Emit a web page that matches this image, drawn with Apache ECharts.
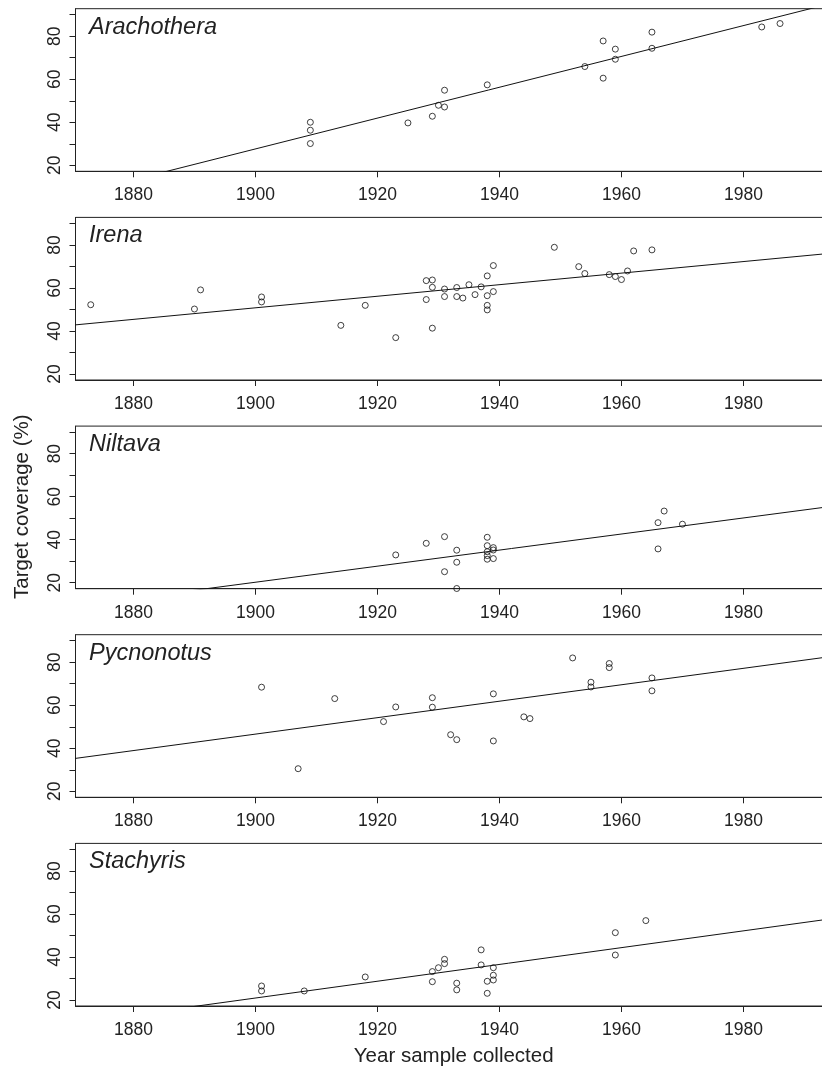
<!DOCTYPE html>
<html>
<head>
<meta charset="utf-8">
<script src="https://cdn.jsdelivr.net/npm/echarts@6/dist/echarts.min.js"></script>
<style>
html,body{margin:0;padding:0;background:#fff;overflow:hidden;width:822px;height:1068px;}
#chart{width:834px;height:1068px;}
</style>
</head>
<body>
<div id="chart"></div>
<script>
// ---- data ----
const genera = ['Arachothera', 'Irena', 'Niltava', 'Pycnonotus', 'Stachyris'];
const xTicks = [1880, 1900, 1920, 1940, 1960, 1980];
const yTicks = [20, 30, 40, 50, 60, 70, 80, 90];
const yLabels = [20, 40, 60, 80];
const xTitle = 'Year sample collected';
const yTitle = 'Target coverage (%)';

const arachotheraYears = [1909, 1909, 1909, 1925, 1929, 1930, 1931, 1931, 1938, 1954, 1957, 1957, 1959, 1959, 1965, 1965, 1983, 1986];
const arachotheraCoverage = [40.0, 36.3, 30.1, 39.7, 42.8, 47.9, 54.9, 47.1, 57.4, 65.9, 77.8, 60.5, 74.0, 69.3, 81.9, 74.4, 84.3, 85.9];

const irenaYears = [1873, 1890, 1891, 1901, 1901, 1914, 1918, 1923, 1928, 1929, 1929, 1928, 1929, 1931, 1931, 1933, 1933, 1934, 1935, 1936, 1937, 1938, 1938, 1938, 1938, 1939, 1939, 1949, 1953, 1954, 1958, 1959, 1960, 1961, 1962, 1965];
const irenaCoverage = [52.2, 50.2, 59.1, 55.8, 53.5, 42.6, 51.9, 36.9, 63.4, 63.7, 60.3, 54.6, 41.3, 59.5, 56.0, 60.2, 56.0, 55.3, 61.5, 56.9, 60.5, 65.6, 56.4, 51.9, 49.8, 70.4, 58.3, 78.9, 69.9, 66.7, 66.2, 65.3, 63.9, 67.9, 77.2, 77.7];

const niltavaYears = [1923, 1928, 1931, 1931, 1933, 1933, 1933, 1938, 1938, 1938, 1938, 1938, 1939, 1939, 1939, 1966, 1967, 1966, 1970];
const niltavaCoverage = [32.9, 38.3, 41.4, 25.1, 35.1, 29.5, 17.3, 41.1, 37.2, 34.4, 32.6, 30.9, 36.3, 35.2, 31.2, 47.9, 53.3, 35.7, 47.2];

const pycnonotusYears = [1901, 1907, 1913, 1921, 1923, 1929, 1929, 1932, 1933, 1939, 1939, 1944, 1945, 1952, 1955, 1955, 1958, 1958, 1965, 1965];
const pycnonotusCoverage = [68.4, 30.5, 63.1, 52.4, 59.2, 63.5, 59.1, 46.3, 44.0, 65.3, 43.4, 54.6, 53.8, 82.0, 70.7, 68.5, 79.4, 77.5, 72.7, 66.7];

const stachyrisYears = [1901, 1901, 1908, 1918, 1929, 1929, 1930, 1931, 1931, 1933, 1933, 1937, 1937, 1938, 1938, 1939, 1939, 1939, 1959, 1959, 1964];
const stachyrisCoverage = [26.5, 24.2, 24.2, 30.7, 33.2, 28.5, 35.0, 38.9, 36.9, 27.8, 24.7, 43.3, 36.3, 28.7, 23.1, 35.0, 31.5, 29.3, 51.3, 40.9, 56.9];

// fitted regression lines: value at each of fitYears
const fitYears = [1870, 1995];
const arachotheraFit = [6.1, 95.7];
const irenaFit = [42.7, 76.3];
const niltavaFit = [9.0, 55.7];
const pycnonotusFit = [35.1, 82.9];
const stachyrisFit = [9.2, 58.0];

// ---- chart ----
const panelYears = [arachotheraYears, irenaYears, niltavaYears, pycnonotusYears, stachyrisYears];
const panelCoverage = [arachotheraCoverage, irenaCoverage, niltavaCoverage, pycnonotusCoverage, stachyrisCoverage];
const panelFit = [arachotheraFit, irenaFit, niltavaFit, pycnonotusFit, stachyrisFit];

const FONT = "'Liberation Sans', Arial, Helvetica, sans-serif";
const INK = '#222';
const tops = [8.7, 217.4, 426.1, 634.7, 843.4];
const gridLeft = 75.5, gridWidth = 757, gridHeight = 162.6;

const grids = [], xAxes = [], yAxes = [], series = [], graphics = [];
genera.forEach((g, i) => {
  grids.push({left: gridLeft, top: tops[i], width: gridWidth, height: gridHeight, show: true,
    borderColor: INK, borderWidth: 1, backgroundColor: 'transparent', containLabel: false});
  xAxes.push({gridIndex: i, type: 'value', min: 1870.5, max: 1994.6,
    axisLine: {show: true, onZero: false, lineStyle: {color: INK, width: 1}},
    axisTick: {show: true, customValues: xTicks, length: 6, lineStyle: {color: INK, width: 1}},
    axisLabel: {customValues: xTicks, formatter: v => String(v), fontSize: 17.5, fontFamily: FONT, color: INK, margin: 15},
    splitLine: {show: false}});
  yAxes.push({gridIndex: i, type: 'value', min: 17.2, max: 92.8,
    axisLine: {show: true, onZero: false, lineStyle: {color: INK, width: 1}},
    axisTick: {show: true, customValues: yTicks, length: 6, lineStyle: {color: INK, width: 1}},
    axisLabel: {customValues: yLabels, formatter: v => String(v), rotate: 90, fontSize: 17.5, fontFamily: FONT, color: INK, margin: 11},
    splitLine: {show: false}});
  series.push({type: 'scatter', xAxisIndex: i, yAxisIndex: i,
    data: panelYears[i].map((y, k) => [y, panelCoverage[i][k]]),
    symbol: 'circle', symbolSize: 6,
    itemStyle: {color: 'rgba(0,0,0,0)', borderColor: '#111', borderWidth: 1},
    emphasis: {disabled: true}, silent: true});
  series.push({type: 'line', xAxisIndex: i, yAxisIndex: i,
    data: fitYears.map((y, k) => [y, panelFit[i][k]]),
    showSymbol: false, symbol: 'none', clip: true,
    lineStyle: {color: '#111', width: 1}, emphasis: {disabled: true}, silent: true});
  graphics.push({type: 'text', x: 89, y: tops[i] + 18.3,
    style: {text: g, fill: INK, fontSize: 23.5, fontStyle: 'italic', fontFamily: FONT,
      align: 'left', verticalAlign: 'middle'}});
});
graphics.push({type: 'text', x: 22, y: 506.7, rotation: Math.PI / 2,
  style: {text: yTitle, fill: INK, fontSize: 20.5, fontFamily: FONT, align: 'center', verticalAlign: 'middle'}});
graphics.push({type: 'text', x: 453.7, y: 1056,
  style: {text: xTitle, fill: INK, fontSize: 20.5, fontFamily: FONT, align: 'center', verticalAlign: 'middle'}});

const chart = echarts.init(document.getElementById('chart'), null, {renderer: 'canvas'});
chart.setOption({
  animation: false,
  backgroundColor: '#fff',
  grid: grids, xAxis: xAxes, yAxis: yAxes, series: series,
  graphic: graphics
});
</script>
</body>
</html>
